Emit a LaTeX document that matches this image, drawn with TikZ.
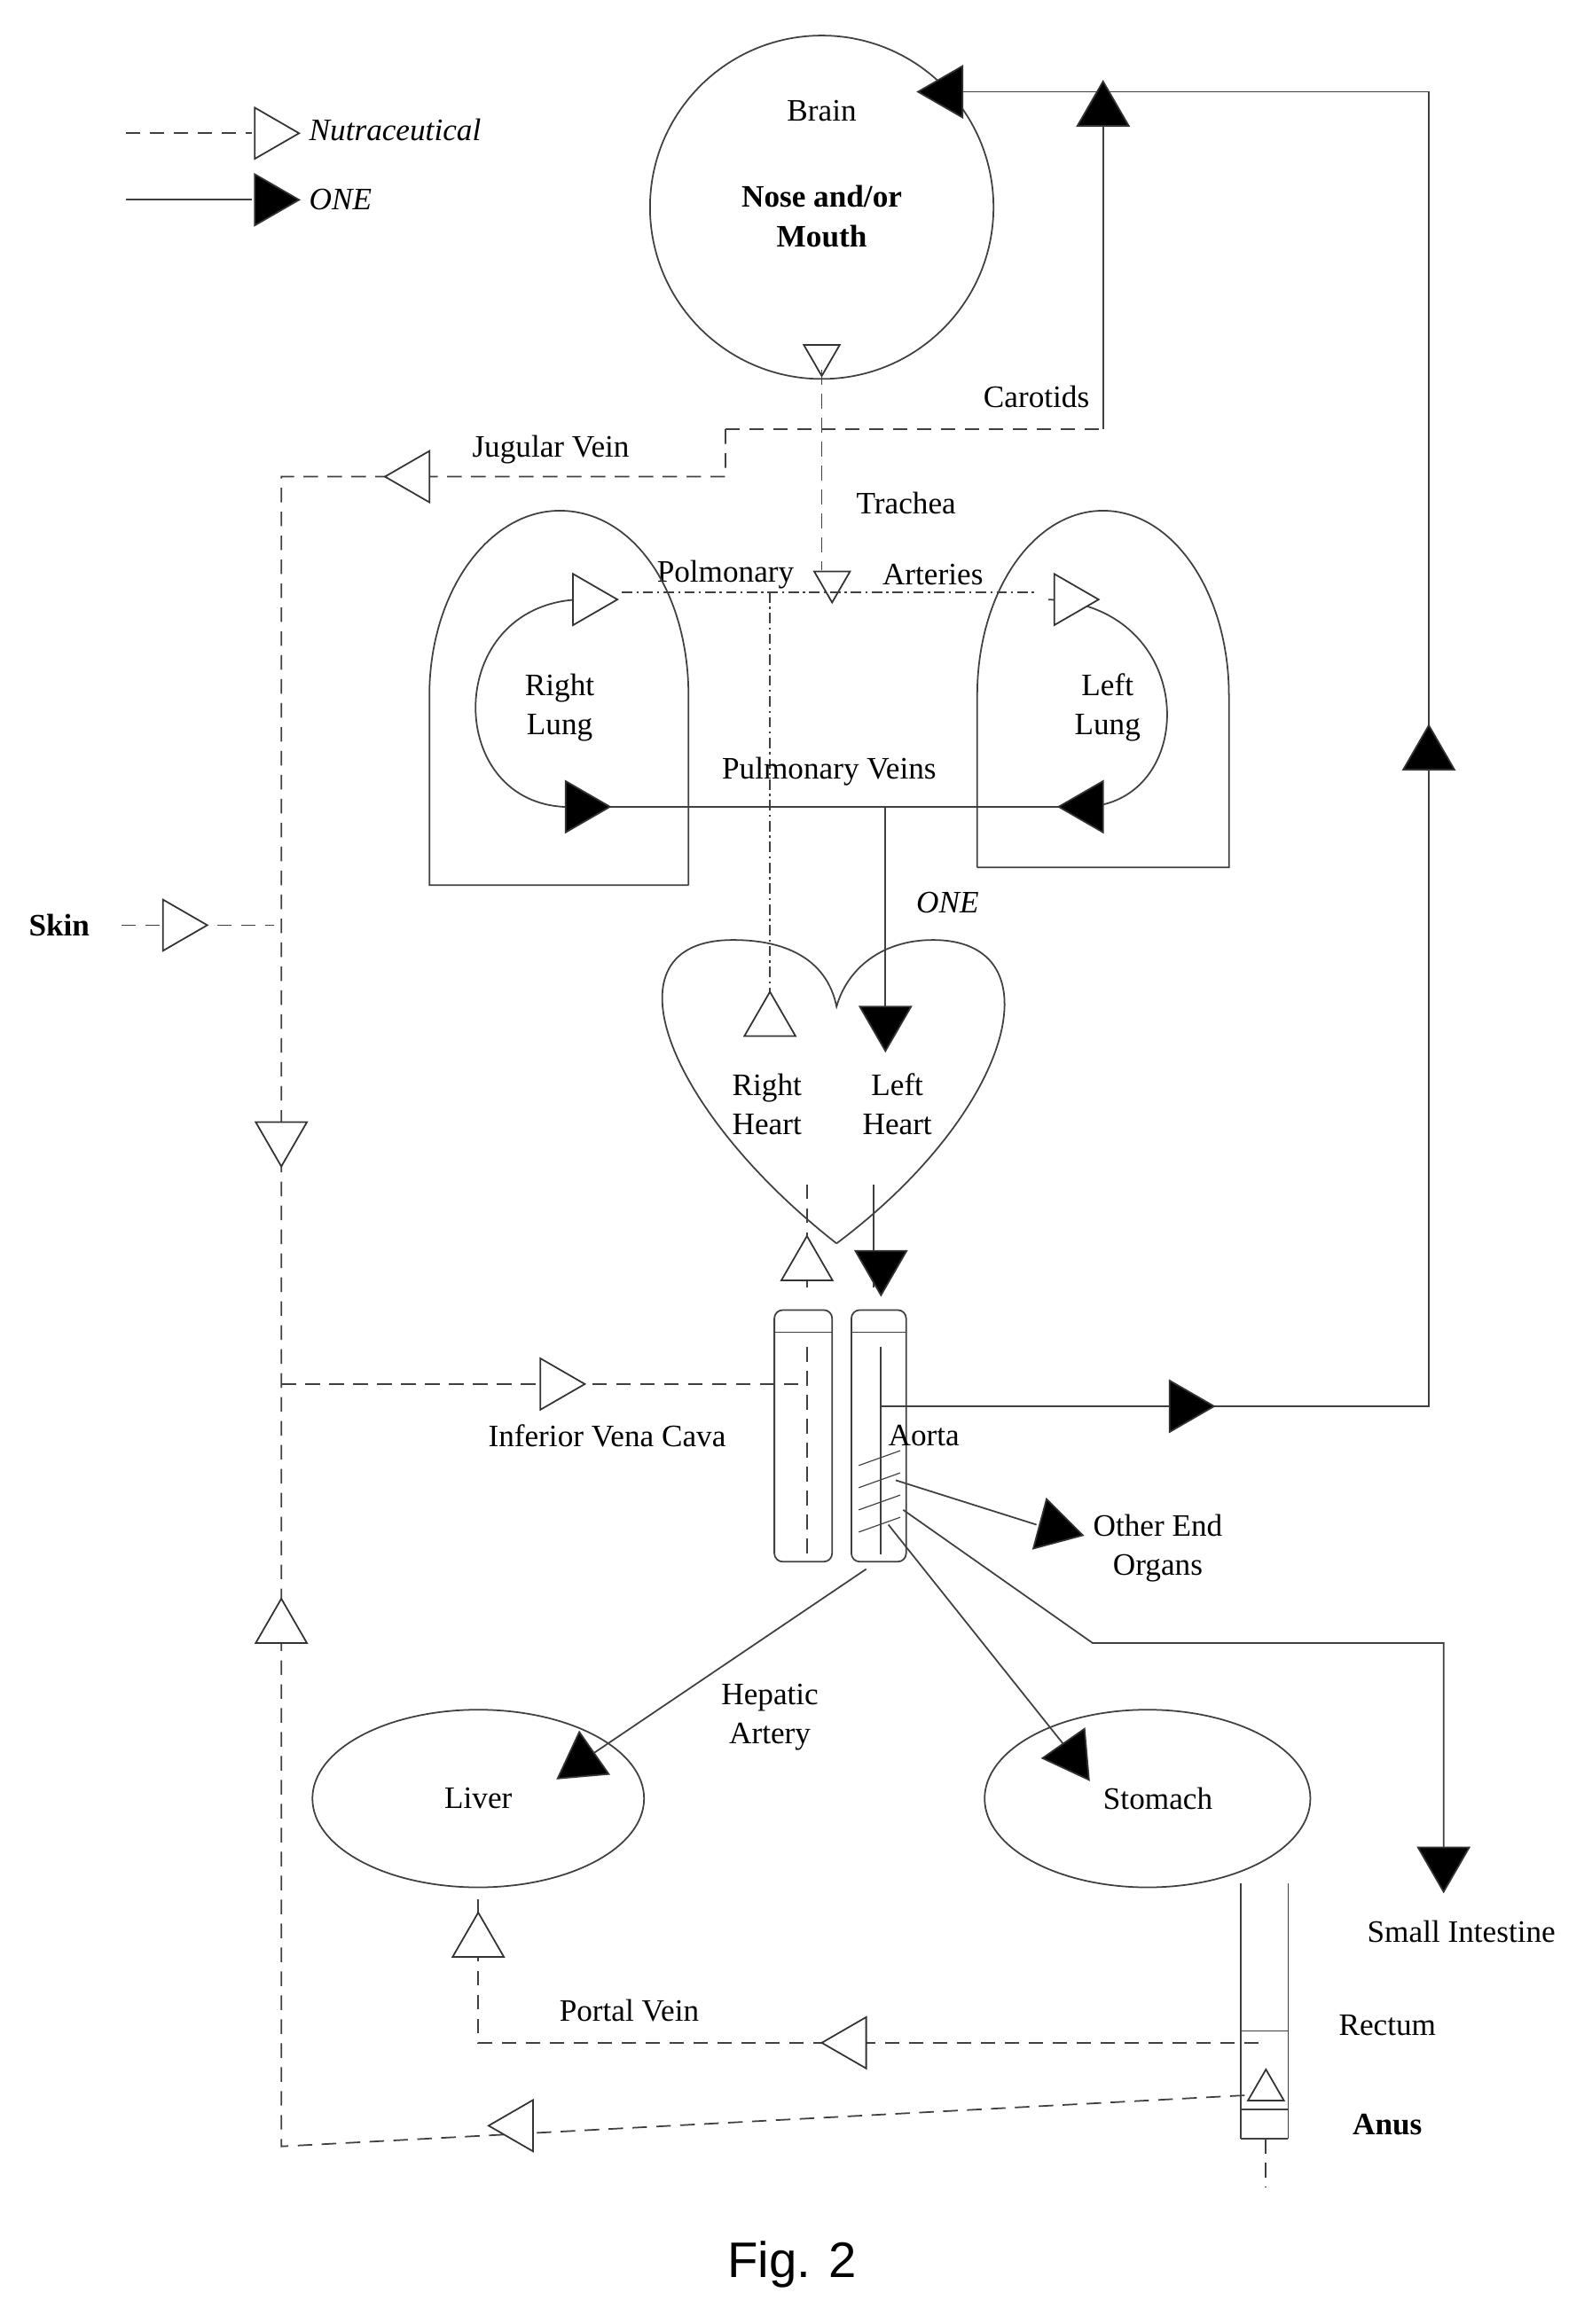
\documentclass[tikz,border=0pt]{standalone}
\usetikzlibrary{shapes.geometric}
\usepackage{fontspec}
\setmainfont{Liberation Serif}
\newfontfamily\capfont{Liberation Sans}
\begin{document}
\begin{tikzpicture}[x=0.05cm,y=-0.05cm,line width=1.5pt,
  every node/.style={font=\fontsize{30}{38}\selectfont},
  sl/.style={draw=black!75},
  dl/.style={draw=black!75,dash pattern=on 14pt off 9pt},
  dd/.style={draw=black!75,dash pattern=on 10pt off 4pt on 2pt off 4pt},
  tri/.style={regular polygon,regular polygon sides=3,draw=black!80,line width=1.5pt,minimum size=2.0cm,inner sep=0pt},
  otri/.style={tri,fill=white},
  ftri/.style={tri,fill=black},
  R/.style={shape border rotate=-90},
  L/.style={shape border rotate=90},
  U/.style={shape border rotate=0},
  D/.style={shape border rotate=180}]
\useasboundingbox (0,0) rectangle (1075,1570);
% legend
\draw[dl] (85,90) -- (170,90);
\node[otri,R] (lg1) at (182,90) {};
\node[anchor=west,font=\fontsize{30}{38}\selectfont\itshape] (lgt1) at (206,88) {Nutraceutical};
\draw[sl] (85,135) -- (170,135);
\node[ftri,R] (lg2) at (182,135) {};
\node[anchor=west,font=\fontsize{30}{38}\selectfont\itshape] (lgt2) at (206,135) {ONE};
% brain
\node[circle,draw=black!75,minimum size=11.6cm] (brain) at (555,140) {};
\node (braint) at (555,75) {Brain};
\node[font=\fontsize{30}{38}\selectfont\bfseries,align=center] (nose) at (555,146) {Nose and/or\\Mouth};
\node[otri,D,minimum size=1.4cm] (tr0) at (555,240) {};
% top right return
\draw[sl] (635,62) -- (965,62) -- (965,950) -- (595,950);
\node[ftri,L] (bt) at (640,62) {};
\node[ftri,U] (rt) at (965,510) {};
\node[ftri,R] (ao1) at (800,950) {};
% carotids
\draw[dl,line width=2.2pt] (490,290) -- (745,290);
\draw[sl] (745,290) -- (745,85);
\node[ftri,U] (car) at (745,75) {};
\node (cart) at (700,268) {Carotids};
\draw[dl] (490,290) -- (490,322) -- (190,322) -- (190,1450) -- (850,1415);
\node[otri,L] (jv) at (280,322) {};
\node (jvt) at (372,304) {Jugular Vein};
\node[otri,D] (ld) at (190,768) {};
\node[otri,U] (lu) at (190,1100) {};
\node[otri,L] (bl) at (350,1436) {};
% skin
\node[font=\fontsize{30}{38}\selectfont\bfseries] (skin) at (40,625) {Skin};
\draw[dl] (82,625) -- (185,625);
\node[otri,R] (sk) at (120,625) {};
% trachea
\draw[dl] (555,250) -- (555,385);
\node (trt) at (612,340) {Trachea};
\node[otri,D,minimum size=1.4cm] (tr1) at (562,393) {};
\node (pat1) at (490,388) {Polmonary};
\node (pat2) at (630,388) {Arteries};
\draw[dd] (420,400) -- (700,400);
\draw[dd] (520,400) -- (520,690);
% lungs
\draw[sl] (465,598) -- (290,598) -- (290,470) .. controls (290,400) and (330,345) .. (378,345) .. controls (428,345) and (465,400) .. (465,470) -- (465,598);
\draw[sl] (660,586) -- (830,586) -- (830,470) .. controls (830,400) and (792,345) .. (745,345) .. controls (698,345) and (660,400) .. (660,470) -- (660,586);
\draw[sl] (390,405) .. controls (300,410) and (300,540) .. (380,545);
\draw[sl] (708,405) .. controls (810,410) and (810,540) .. (735,545);
\node[otri,R] (rl1) at (397,405) {};
\node[otri,R] (ll1) at (722,405) {};
\node[align=center] (rlt) at (378,478) {Right\\Lung};
\node[align=center] (llt) at (748,478) {Left\\Lung};
\draw[sl] (380,545) -- (745,545);
\node[ftri,R] (pv1) at (392,545) {};
\node[ftri,L] (pv2) at (735,545) {};
\node (pvt) at (560,521) {Pulmonary Veins};
\draw[sl] (598,545) -- (598,680);
\node[ftri,D] (one1) at (598,690) {};
\node[font=\fontsize{30}{38}\selectfont\itshape] (onet) at (640,610) {ONE};
% heart
\draw[sl] (565,840) .. controls (450,750) and (405,635) .. (495,635) .. controls (540,635) and (560,655) .. (565,680) .. controls (572,655) and (595,635) .. (630,635) .. controls (715,635) and (685,750) .. (565,840);
\node[otri,U] (rh) at (520,690) {};
\node[align=center] (rht) at (518,746) {Right\\Heart};
\node[align=center] (lht) at (606,746) {Left\\Heart};
\draw[dl] (545,800) -- (545,870);
\draw[sl] (590,800) -- (590,870);
\node[otri,U] (ht1) at (545,855) {};
\node[ftri,D] (ht2) at (595,855) {};
% vessels
\draw[sl,rounded corners=8pt] (523,1055) rectangle (562,885);
\draw[sl] (523,900) -- (562,900);
\draw[dl] (545,910) -- (545,1050);
\draw[sl,rounded corners=8pt] (575,1055) rectangle (612,885);
\draw[sl] (575,900) -- (612,900);
\draw[sl] (595,910) -- (595,1050);
\foreach \yy in {985,1000,1015,1030}{\draw[sl,line width=1pt] (580,\yy+5) -- (608,\yy-5);}
\draw[dl] (190,935) -- (545,935);
\node[otri,R] (ivc) at (375,935) {};
\node (ivct) at (410,970) {Inferior Vena Cava};
\node (aot) at (624,970) {Aorta};
% aorta branches
\draw[sl] (605,1000) -- (700,1030);
\node[ftri,R,rotate=-15] (oe) at (712,1032) {};
\node[align=center] (oet) at (782,1046) {Other End\\Organs};
\draw[sl] (610,1020) -- (738,1110) -- (975,1110) -- (975,1250);
\node[ftri,D] (si) at (975,1258) {};
\draw[sl] (600,1030) -- (718,1178);
\node[ftri,rotate=-145] (st) at (724,1186) {};
\draw[sl] (585,1060) -- (400,1185);
\node[ftri,rotate=-235] (lv) at (393,1190) {};
\node[align=center] (hat) at (520,1160) {Hepatic\\Artery};
% organs
\node[ellipse,draw=black!75,minimum width=11.2cm,minimum height=6cm] (liver) at (323,1215) {};
\node (livert) at (323,1215) {Liver};
\node[ellipse,draw=black!75,minimum width=11cm,minimum height=6cm] (stom) at (775,1215) {};
\node (stomt) at (782,1215) {Stomach};
\draw[sl] (838,1272) -- (838,1445) (870,1272) -- (870,1445);
\draw[sl] (838,1372) -- (870,1372) (838,1425) -- (870,1425) (838,1445) -- (870,1445);
\draw[dl] (855,1445) -- (855,1478);
\node[otri,U,minimum size=1.4cm] (an) at (855,1412) {};
\node (sit) at (987,1305) {Small Intestine};
\node (ret) at (937,1368) {Rectum};
\node[font=\fontsize{30}{38}\selectfont\bfseries] (ant) at (937,1435) {Anus};
\draw[dl] (850,1380) -- (323,1380) -- (323,1277);
\node[otri,L] (pvv) at (575,1380) {};
\node[otri,U] (pvu) at (323,1312) {};
\node (pvvt) at (425,1358) {Portal Vein};
% caption
\node[font=\capfont\fontsize{48}{54}\selectfont] (cap) at (535,1530) {Fig. 2};
\end{tikzpicture}
\end{document}
